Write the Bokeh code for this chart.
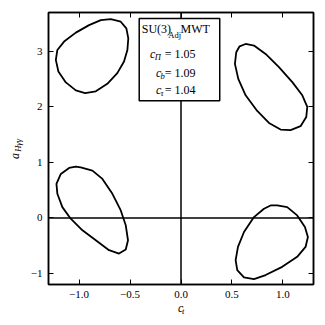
import math
from bokeh.plotting import figure
from bokeh.models import (Span, BoxAnnotation, Label, LinearAxis, FixedTicker, Range1d,
                          CustomLabelingPolicy)
from bokeh.embed import file_html
from bokeh.resources import INLINE

# ---- data ----
# upper-left contour
ul_x = [-0.689, -0.591, -0.536, -0.517, -0.526, -0.559, -0.625, -0.723, -0.836, -0.941,
        -1.032, -1.130, -1.203, -1.228, -1.213, -1.147, -1.032, -0.902, -0.787]
ul_y = [3.581, 3.534, 3.414, 3.235, 3.025, 2.817, 2.608, 2.416, 2.280, 2.249,
        2.297, 2.441, 2.638, 2.846, 3.025, 3.176, 3.337, 3.473, 3.563]
# upper-right contour
ur_x = [0.634, 0.716, 0.830, 0.961, 1.092, 1.190, 1.239, 1.229, 1.173, 1.075,
        0.977, 0.863, 0.748, 0.634, 0.562, 0.529, 0.542, 0.575]
ur_y = [3.133, 3.104, 2.953, 2.715, 2.446, 2.208, 1.998, 1.819, 1.652, 1.581,
        1.591, 1.711, 1.927, 2.208, 2.505, 2.774, 2.984, 3.091]
# lower-left contour
ll_x = [-0.984, -0.869, -0.771, -0.673, -0.591, -0.542, -0.520, -0.542, -0.608, -0.706,
        -0.836, -0.967, -1.082, -1.164, -1.213, -1.222, -1.179, -1.098, -1.032]
ll_y = [0.910, 0.851, 0.702, 0.434, 0.134, -0.134, -0.403, -0.570, -0.642, -0.582,
        -0.403, -0.224, -0.014, 0.194, 0.434, 0.613, 0.792, 0.900, 0.923]
# lower-right contour
lr_x = [0.944, 1.042, 1.140, 1.216, 1.245, 1.222, 1.140, 0.993, 0.830, 0.716,
        0.618, 0.552, 0.536, 0.559, 0.618, 0.716, 0.814, 0.879]
lr_y = [0.224, 0.194, 0.045, -0.165, -0.344, -0.523, -0.702, -0.882, -1.030, -1.102,
        -1.072, -0.941, -0.762, -0.523, -0.254, 0.014, 0.165, 0.224]

x_ticks = [-1.0, -0.5, 0.0, 0.5, 1.0]
x_tick_labels = ["\u22121.0", "\u22120.5", "0.0", "0.5", "1.0"]
y_ticks = [-1, 0, 1, 2, 3]
y_tick_labels = ["\u22121", "0", "1", "2", "3"]

legend_title = "SU(3)"
legend_title_sub = "Adj"
legend_title_tail = "MWT"
coef_names = ["\u03a0", "b", "\u03c4"]
coef_values = ["1.05", "1.09", "1.04"]

FONT = "Liberation Serif"

p = figure(frame_width=265, frame_height=272, output_backend="svg", toolbar_location=None,
           x_range=Range1d(-1.3, 1.3), y_range=Range1d(-1.2, 3.7),
           min_border_left=48, min_border_right=12, min_border_top=12, min_border_bottom=40)
p.background_fill_color = "white"
p.border_fill_color = "white"
p.xgrid.visible = False
p.ygrid.visible = False
p.outline_line_color = "black"
p.outline_line_width = 1.5

no_labels = CustomLabelingPolicy(code="for (const i of Array.from(indices)) { indices.unset(i) } return indices")

def style_axis(ax, ticks, labels, show_labels):
    ax.ticker = FixedTicker(ticks=ticks)
    ax.major_label_overrides = {float(t): l for t, l in zip(ticks, labels)}
    ax.major_tick_in = 5
    ax.major_tick_out = 0
    ax.minor_tick_line_color = None
    ax.major_tick_line_color = "black"
    ax.major_tick_line_width = 1
    ax.axis_line_color = "black"
    ax.axis_line_width = 1.5
    ax.major_label_text_font = FONT
    ax.major_label_text_font_size = "11px"
    ax.major_label_text_color = "black"
    ax.major_label_standoff = 6
    if not show_labels:
        ax.major_label_policy = no_labels
        ax.major_label_standoff = 0

style_axis(p.xaxis[0], x_ticks, x_tick_labels, True)
style_axis(p.yaxis[0], y_ticks, y_tick_labels, True)
top_ax = LinearAxis()
right_ax = LinearAxis()
style_axis(top_ax, x_ticks, x_tick_labels, False)
style_axis(right_ax, y_ticks, y_tick_labels, False)
p.add_layout(top_ax, "above")
p.add_layout(right_ax, "right")

p.add_layout(Span(location=0, dimension="height", line_color="black", line_width=1.5, level="underlay"))
p.add_layout(Span(location=0, dimension="width", line_color="black", line_width=1.5, level="underlay"))

p.patches([ul_x, ur_x, ll_x, lr_x], [ul_y, ur_y, ll_y, lr_y],
          fill_color=None, line_color="black", line_width=1.8, line_join="round")

p.add_layout(BoxAnnotation(left=-0.41, right=0.38, bottom=2.11, top=3.59,
                           fill_color="white", fill_alpha=1.0,
                           line_color="black", line_width=1.5, line_alpha=1.0))

def lab(x, y, text, size="12px", style="normal", angle=0, place="center"):
    p.add_layout(Label(x=x, y=y, text=text, text_font=FONT, text_font_size=size,
                       text_font_style=style, text_align="left", text_baseline="middle",
                       text_color="black", angle=angle), place)

# legend box texts
lab(-0.385, 3.396, legend_title, "12px")
lab(-0.125, 3.290, legend_title_sub, "8.5px")
lab(-0.005, 3.396, legend_title_tail, "12px")

row_y = [2.948, 2.613, 2.297]
sub_y = [2.894, 2.562, 2.249]
c_x = [-0.305, -0.245, -0.245]
sub_x = [-0.258, -0.200, -0.200]
for i in range(3):
    lab(c_x[i], row_y[i], "c", "12px", "italic")
    lab(sub_x[i], sub_y[i], coef_names[i], "8.5px", "italic")
    lab(-0.160, row_y[i], "= " + coef_values[i], "12px")

# axis labels (in the side panels so that they are not clipped)
lab(-0.030, -1.62, "c", "12px", "italic", place="below")
lab(0.010, -1.676, "t", "8.5px", "italic", place="below")
lab(-1.627, 1.06, "a", "12px", "italic", angle=math.pi / 2, place="left")
lab(-1.600, 1.19, "H\u03b3\u03b3", "8.5px", "italic", angle=math.pi / 2, place="left")

open("out.html", "w").write(file_html(p, INLINE))
